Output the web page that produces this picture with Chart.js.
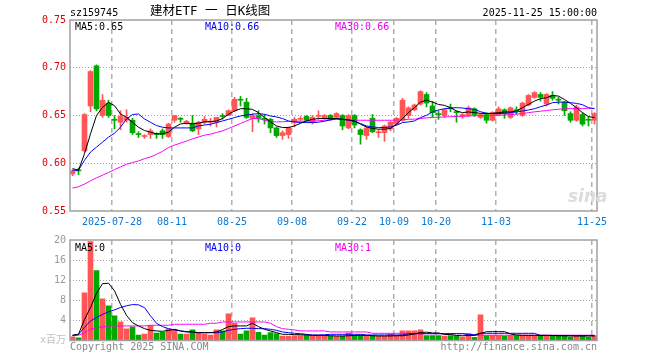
<!DOCTYPE html>
<html>
<head>
<meta charset="utf-8">
<script src="https://cdn.jsdelivr.net/npm/chart.js@4.4.0/dist/chart.umd.min.js"></script>
<style>
  body { margin: 0; background: #fff; }
  #wrap { position: relative; width: 660px; height: 360px; background: #fff; overflow: hidden; }
  canvas { position: absolute; left: 0; }
  .t { position: absolute; font: 10px 'DejaVu Sans Mono', monospace; line-height: 10px; white-space: pre; }
</style>
</head>
<body>
<div id="wrap">
  <canvas id="priceChart" width="660" height="230" style="top:0"></canvas>
  <canvas id="volChart" width="660" height="130" style="top:230px"></canvas>
  <span class="t" style="left:70px;top:8px;color:#000">sz159745</span>
  <span class="t" style="left:150px;top:4px;font-size:12.5px;line-height:13px;font-family:'DejaVu Sans Mono','Noto Sans CJK SC';color:#000">建材ETF 一 日K线图</span>
  <span class="t" style="right:63px;top:8px;color:#000">2025-11-25 15:00:00</span>
  <span class="t" style="left:75px;top:22px;color:#000">MA5:0.65</span>
  <span class="t" style="left:205px;top:22px;color:#0000ee">MA10:0.66</span>
  <span class="t" style="left:335px;top:22px;color:#ee00ee">MA30:0.66</span>
  <span class="t" style="left:75px;top:243px;color:#000">MA5:0</span>
  <span class="t" style="left:205px;top:243px;color:#0000ee">MA10:0</span>
  <span class="t" style="left:335px;top:243px;color:#ee00ee">MA30:1</span>
  <span class="t" style="left:70px;top:342px;color:#888">Copyright 2025 SINA.COM</span>
  <span class="t" style="right:63px;top:342px;color:#888">http://finance.sina.com.cn</span>
  <span class="t" style="left:568px;top:186px;font:italic bold 17px 'DejaVu Sans';color:#dcdcdc">sina</span>
</div>
<script>
// trading days shown
const dates = ['07-17','07-18','07-21','07-22','07-23','07-24','07-25','07-28','07-29','07-30','07-31',
  '08-01','08-04','08-05','08-06','08-07','08-08','08-11','08-12','08-13','08-14','08-15','08-18','08-19','08-20','08-21','08-22','08-25','08-26','08-27','08-28','08-29',
  '09-01','09-02','09-03','09-04','09-05','09-08','09-09','09-10','09-11','09-12','09-15','09-16','09-17','09-18','09-19','09-22','09-23','09-24','09-25','09-26','09-29','09-30',
  '10-09','10-10','10-13','10-14','10-15','10-16','10-17','10-20','10-21','10-22','10-23','10-24','10-27','10-28','10-29','10-30','10-31',
  '11-03','11-04','11-05','11-06','11-07','11-10','11-11','11-12','11-13','11-14','11-17','11-18','11-19','11-20','11-21','11-24','11-25'];
const tickLabels = ['2025-07-28','08-11','08-25','09-08','09-22','10-09','10-20','11-03','11-25'];
const priceTicks = [0.55, 0.60, 0.65, 0.70, 0.75];
const volTicks = [0, 4, 8, 12, 16, 20];

const opens = [0.589,0.5925,0.613,0.660,0.702,0.650,0.663,0.646,0.643,0.645,0.645,0.6305,0.628,0.630,0.6305,0.634,0.628,0.645,0.647,0.642,
  0.642,0.636,0.643,0.643,0.643,0.650,0.650,0.655,0.667,0.664,0.647,0.650,0.647,0.646,0.637,0.629,0.630,0.643,0.646,0.649,
  0.643,0.649,0.647,0.650,0.648,0.650,0.637,0.650,0.635,0.629,0.647,0.632,0.632,0.636,0.641,0.645,0.650,0.656,0.662,0.672,
  0.660,0.652,0.650,0.658,0.654,0.649,0.650,0.657,0.648,0.651,0.645,0.651,0.656,0.648,0.656,0.650,0.661,0.669,0.672,0.662,
  0.671,0.667,0.664,0.652,0.645,0.651,0.646,0.645];
const closes = [0.592,0.592,0.651,0.696,0.657,0.666,0.650,0.645,0.649,0.648,0.632,0.630,0.6285,0.634,0.630,0.630,0.641,0.650,0.646,0.644,
  0.634,0.643,0.646,0.644,0.648,0.649,0.655,0.667,0.666,0.648,0.650,0.647,0.646,0.637,0.629,0.632,0.637,0.646,0.647,0.645,
  0.648,0.650,0.650,0.646,0.652,0.639,0.650,0.640,0.630,0.637,0.633,0.633,0.639,0.643,0.647,0.666,0.658,0.661,0.675,0.663,
  0.653,0.651,0.656,0.657,0.653,0.651,0.658,0.651,0.651,0.645,0.653,0.657,0.652,0.658,0.655,0.663,0.671,0.674,0.669,0.672,
  0.668,0.666,0.655,0.645,0.659,0.641,0.645,0.652];
const highs = [0.593,0.595,0.652,0.697,0.703,0.672,0.666,0.650,0.655,0.656,0.647,0.633,0.630,0.636,0.632,0.636,0.642,0.650,0.648,0.645,
  0.650,0.644,0.649,0.647,0.648,0.652,0.656,0.669,0.670,0.668,0.652,0.655,0.651,0.647,0.638,0.634,0.638,0.648,0.649,0.650,
  0.650,0.655,0.651,0.651,0.653,0.651,0.651,0.651,0.636,0.638,0.651,0.635,0.640,0.644,0.648,0.668,0.659,0.662,0.676,0.674,
  0.665,0.655,0.657,0.662,0.655,0.652,0.660,0.658,0.652,0.653,0.654,0.659,0.657,0.659,0.659,0.664,0.672,0.675,0.674,0.673,
  0.675,0.669,0.665,0.654,0.661,0.653,0.649,0.653];
const lows = [0.587,0.588,0.612,0.654,0.655,0.648,0.648,0.636,0.635,0.643,0.630,0.627,0.626,0.626,0.626,0.626,0.627,0.643,0.643,0.641,
  0.633,0.630,0.641,0.639,0.638,0.646,0.650,0.654,0.660,0.647,0.633,0.643,0.641,0.632,0.627,0.625,0.626,0.638,0.644,0.644,
  0.641,0.646,0.646,0.645,0.646,0.635,0.636,0.637,0.620,0.625,0.632,0.627,0.623,0.634,0.640,0.644,0.647,0.655,0.661,0.659,
  0.648,0.646,0.648,0.654,0.643,0.647,0.649,0.649,0.647,0.642,0.644,0.650,0.647,0.647,0.651,0.649,0.660,0.668,0.665,0.660,
  0.666,0.662,0.650,0.643,0.644,0.639,0.639,0.641];
const ma5 = [0.5944,0.5927,0.610,0.6308,0.650,0.6585,0.6637,0.6603,0.6516,0.6481,0.6429,0.6377,0.6343,0.6325,0.6308,0.6308,0.6325,0.6377,0.6412,0.6418,
  0.6412,0.6420,0.6433,0.6436,0.6443,0.6468,0.6513,0.6547,0.6571,0.6571,0.6564,0.6530,0.6478,0.6433,0.6391,0.6374,0.6374,0.6391,0.6419,0.6443,
  0.6460,0.6468,0.6468,0.6468,0.6468,0.6460,0.6453,0.6443,0.6409,0.6380,0.6364,0.6357,0.6357,0.6364,0.6409,0.6468,0.6530,0.6582,0.6640,0.6661,
  0.6640,0.6616,0.6606,0.6582,0.6547,0.6530,0.6537,0.6530,0.6523,0.6520,0.6523,0.6530,0.6537,0.6537,0.6547,0.6582,0.6616,0.6651,0.6676,0.6686,
  0.6710,0.6703,0.6668,0.6627,0.6582,0.6530,0.6489,0.6478];
const ma10 = [0.5927,0.5927,0.6031,0.6117,0.6169,0.6221,0.6273,0.6315,0.6377,0.6464,0.6510,0.6516,0.6464,0.6429,0.6395,0.6377,0.6370,0.6370,0.6370,0.6370,
  0.6370,0.6391,0.6400,0.6409,0.6426,0.6443,0.6460,0.6478,0.6495,0.6505,0.6513,0.6520,0.6513,0.6495,0.6485,0.6468,0.6443,0.6433,0.6426,0.6426,
  0.6426,0.6430,0.6440,0.6455,0.6468,0.6460,0.6453,0.6440,0.6416,0.6391,0.6380,0.6374,0.6374,0.6380,0.6398,0.6426,0.6433,0.6443,0.6478,0.6502,
  0.6537,0.6558,0.6571,0.6578,0.6582,0.6578,0.6571,0.6564,0.6540,0.6523,0.6520,0.6520,0.6523,0.6530,0.6537,0.6547,0.6558,0.6571,0.6592,0.6609,
  0.6634,0.6640,0.6640,0.6634,0.6627,0.6613,0.6582,0.6571];
const ma30 = [0.5740,0.5754,0.5782,0.5816,0.5847,0.5875,0.5903,0.5934,0.5962,0.5990,0.6007,0.6024,0.6048,0.6066,0.6093,0.6125,0.6165,0.6190,0.6211,0.6232,
  0.6256,0.6275,0.6294,0.6305,0.6322,0.6339,0.6364,0.6391,0.6416,0.6443,0.6468,0.6468,0.6450,0.6436,0.6433,0.6435,0.6437,0.6438,0.6440,0.6440,
  0.6442,0.6445,0.6450,0.6455,0.6460,0.6458,0.6452,0.6450,0.6450,0.6450,0.6450,0.6450,0.6450,0.6450,0.6452,0.6455,0.6460,0.6462,0.6468,0.6475,
  0.6480,0.6482,0.6485,0.6488,0.6490,0.6492,0.6495,0.6497,0.6500,0.6500,0.6500,0.6502,0.6505,0.6510,0.6515,0.6520,0.6530,0.6538,0.6545,0.6552,
  0.6560,0.6565,0.6570,0.6572,0.6573,0.6574,0.6575,0.6575];

// volume, millions
const volume = [0.75,0.55,9.5,19.7,13.9,8.3,6.9,4.9,3.7,2.3,2.7,1.1,1.3,3.0,1.5,1.65,2.3,2.1,1.3,1.3,
  2.1,1.5,1.3,1.1,2.1,1.9,5.3,3.4,1.3,1.9,4.5,1.65,1.1,1.6,1.4,0.9,0.9,0.95,1.0,1.1,
  1.0,0.95,0.95,0.9,0.9,0.9,1.5,1.0,1.0,1.0,1.0,0.9,0.9,1.3,1.0,1.9,1.9,1.9,2.1,1.0,
  1.0,1.0,0.9,1.0,0.9,0.7,1.4,0.65,5.1,1.0,1.0,1.0,0.9,1.0,1.0,1.0,1.0,1.0,1.0,1.0,
  1.0,1.0,1.0,0.7,1.0,1.0,0.7,1.0];
const vma5 = [1.03,1.23,4.2,6.55,9.4,11.3,11.4,9.9,7.2,5.0,3.55,2.9,2.36,2.03,1.9,1.83,2.0,2.23,1.9,1.7,
  1.7,1.56,1.56,1.56,1.7,2.2,2.76,2.9,2.9,2.9,3.43,2.76,2.23,1.9,1.56,1.23,1.23,1.16,1.16,1.1,
  1.03,1.03,1.0,0.95,0.9,0.9,0.95,1.0,1.03,1.03,0.95,0.9,0.9,0.9,0.95,0.95,1.1,1.3,1.6,1.65,
  1.5,1.5,1.2,1.2,1.0,0.95,1.0,1.0,1.4,1.75,1.76,1.76,1.76,1.3,1.1,1.03,1.03,1.03,1.03,1.03,
  1.0,0.95,0.95,0.9,0.9,0.9,0.9,0.9];
const vma10 = [1.03,1.23,2.6,3.9,4.56,5.2,5.7,6.1,6.55,6.9,7.15,7.1,6.55,4.9,3.43,2.76,2.36,2.1,1.9,1.77,
  1.7,1.56,1.56,1.56,1.56,1.7,2.03,2.23,2.36,2.43,2.43,2.36,2.36,2.23,2.03,1.7,1.56,1.43,1.36,1.23,
  1.1,1.1,1.15,1.23,1.23,1.23,1.23,1.23,1.23,1.1,1.1,1.1,1.1,1.1,1.1,1.1,1.36,1.36,1.36,1.36,
  1.36,1.36,1.36,1.36,1.36,1.36,1.16,1.16,1.43,1.43,1.43,1.43,1.43,1.43,1.43,1.43,1.43,1.43,1.0,1.0,
  1.0,1.0,0.98,0.98,0.98,0.98,0.98,0.98];
const vma30 = [0.95,1.03,1.56,2.23,2.56,2.7,2.9,2.9,2.9,2.9,2.9,2.9,2.9,3.03,3.03,3.03,3.03,3.23,3.23,3.23,
  3.23,3.23,3.23,3.43,3.43,3.69,3.69,3.69,3.69,3.69,3.69,3.69,3.69,3.43,2.76,2.36,2.23,2.1,1.9,1.9,
  1.9,1.9,1.9,1.7,1.7,1.7,1.7,1.7,1.7,1.7,1.43,1.43,1.43,1.43,1.43,1.43,1.43,1.36,1.36,1.36,
  1.36,1.36,1.36,1.36,1.36,1.36,1.36,1.05,1.05,1.05,1.05,1.05,1.05,1.05,1.05,1.05,1.05,1.05,1.05,1.05,
  1.05,1.05,1.05,1.05,1.05,1.05,1.05,1.05];

const upColor = '#ff5555';
const downColor = '#00a800';
const monoFont = { family: "'DejaVu Sans Mono', 'Noto Sans CJK SC', monospace", size: 10 };
const barColors = closes.map((c, i) => c >= opens[i] ? upColor : downColor);
const tickIdx = tickLabels.map(l => dates.indexOf(l.slice(-5)));

// grey frame round each plot
const frame = {
  id: 'frame',
  afterDraw(chart) {
    const { ctx, chartArea: a } = chart;
    ctx.save();
    ctx.strokeStyle = '#a0a0a0';
    ctx.lineWidth = 1.5;
    ctx.strokeRect(a.left, a.top, a.right - a.left, a.bottom - a.top);
    ctx.restore();
  }
};

function xAxis(showLabels) {
  return {
    type: 'linear',
    offset: false,
    min: -0.4167,
    max: dates.length - 0.5833,
    afterBuildTicks: s => { s.ticks = tickIdx.map(i => ({ value: i - 0.42 })); },
    afterFit: s => { s.height = showLabels ? 19 : 19.5; },
    grid: { drawTicks: false, offset: false, color: '#b0b0b0', lineWidth: 1.5 },
    border: { display: false, dash: [5, 4] },
    ticks: {
      display: showLabels, autoSkip: false, maxRotation: 0, minRotation: 0, padding: 5,
      color: '#0a78d2', font: monoFont,
      callback: (v, k) => tickLabels[k]
    }
  };
}

function line(values, color) {
  return {
    type: 'line',
    data: values.map((v, i) => ({ x: i, y: v })),
    borderColor: color, borderWidth: 1, pointRadius: 0, tension: 0, order: 0
  };
}

const baseOpts = {
  responsive: false,
  devicePixelRatio: 1,
  animation: false,
  events: [],
  plugins: { legend: { display: false }, tooltip: { enabled: false } }
};

new Chart(document.getElementById('priceChart'), {
  type: 'bar',
  data: {
    datasets: [
      line(ma5, '#000000'),
      line(ma10, '#0000ff'),
      line(ma30, '#ff00ff'),
      {
        data: dates.map((d, i) => ({ x: i, y: [opens[i], closes[i]] })),
        backgroundColor: barColors, barThickness: 5, minBarLength: 1, grouped: false, order: 1
      },
      {
        data: dates.map((d, i) => ({ x: i, y: [lows[i], highs[i]] })),
        backgroundColor: barColors, barThickness: 1, grouped: false, order: 2
      }
    ]
  },
  options: {
    ...baseOpts,
    layout: { padding: { left: 0, right: 63, top: 20, bottom: 0 } },
    scales: {
      x: xAxis(true),
      y: {
        min: 0.55, max: 0.75,
        afterBuildTicks: s => { s.ticks = priceTicks.map(v => ({ value: v })); },
        afterFit: s => { s.width = 70; },
        grid: {
          drawTicks: false, lineWidth: 1,
          color: c => (c.tick && (c.tick.value === 0.55 || c.tick.value === 0.75)) ? 'rgba(0,0,0,0)' : '#a0a0a0'
        },
        border: { display: false, dash: [1, 2] },
        ticks: { color: '#e60000', padding: 4, font: monoFont, callback: v => v.toFixed(2) }
      }
    }
  },
  plugins: [frame]
});

new Chart(document.getElementById('volChart'), {
  type: 'bar',
  data: {
    datasets: [
      line(vma5, '#000000'),
      line(vma10, '#0000ff'),
      line(vma30, '#ff00ff'),
      {
        data: dates.map((d, i) => ({ x: i, y: volume[i] })),
        backgroundColor: barColors, barThickness: 5, grouped: false, order: 1
      }
    ]
  },
  options: {
    ...baseOpts,
    layout: { padding: { left: 0, right: 63, top: 10, bottom: 0 } },
    scales: {
      x: xAxis(false),
      y: {
        min: 0, max: 20,
        afterBuildTicks: s => { s.ticks = volTicks.map(v => ({ value: v })); },
        afterFit: s => { s.width = 70; },
        grid: {
          drawTicks: false, lineWidth: 1,
          color: c => (c.tick && (c.tick.value === 0 || c.tick.value === 20)) ? 'rgba(0,0,0,0)' : '#a0a0a0'
        },
        border: { display: false, dash: [1, 2] },
        ticks: {
          padding: 4, font: monoFont,
          color: c => c.tick && c.tick.value === 0 ? '#c0c0c0' : '#999999',
          callback: v => v === 0 ? 'x百万' : String(v)
        }
      }
    }
  },
  plugins: [frame]
});
</script>
</body>
</html>
